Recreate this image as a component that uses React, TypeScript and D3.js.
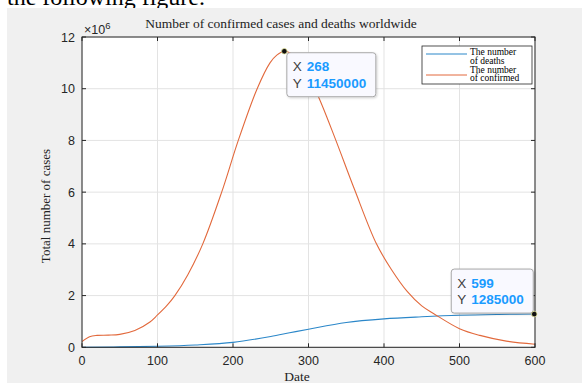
import React from "react";
import * as d3 from "d3";

// confirmed cases
const confirmedDays = [0, 10, 20, 35, 50, 70, 90, 100, 112, 123, 140, 160, 185, 207, 232, 249, 258, 268, 280, 290, 300, 313, 335, 361, 390, 410, 431, 450, 467, 500, 527, 562, 600];
const confirmed = [0.22, 0.41, 0.46, 0.47, 0.5, 0.65, 0.98, 1.25, 1.6, 2.0, 2.8, 4.0, 6.0, 8.0, 10.0, 11.0, 11.3, 11.45, 11.3, 10.95, 10.45, 9.7, 8.1, 6.1, 4.0, 3.0, 2.15, 1.6, 1.28, 0.72, 0.46, 0.24, 0.12].map((v) => v * 1e6);

// deaths
const deathDays = [0, 50, 100, 150, 200, 250, 275, 300, 350, 400, 450, 500, 550, 599, 600];
const deaths = [0.0, 0.015, 0.04, 0.09, 0.19, 0.42, 0.56, 0.7, 0.96, 1.1, 1.18, 1.24, 1.27, 1.285, 1.285].map((v) => v * 1e6);

const xTicks = [0, 100, 200, 300, 400, 500, 600];
const yTicks = [0, 2, 4, 6, 8, 10, 12];

const tips = [
  { x: 268, y: 11450000, side: "right" },
  { x: 599, y: 1285000, side: "left" },
];

const W = 582;
const H = 383;
const plot = { left: 82, right: 535, top: 37, bottom: 347.3 };

const sans = "'Liberation Sans', Arial, sans-serif";
const serif = "'Liberation Serif', 'Times New Roman', serif";

export default function App() {
  const x = d3.scaleLinear().domain([0, 600]).range([plot.left, plot.right]);
  const y = d3.scaleLinear().domain([0, 12e6]).range([plot.bottom, plot.top]);

  const confLine = d3
    .line<number>()
    .x((_, i) => x(confirmedDays[i]))
    .y((d) => y(d))
    .curve(d3.curveCatmullRom.alpha(0.5));
  const deathLine = d3
    .line<number>()
    .x((_, i) => x(deathDays[i]))
    .y((d) => y(d))
    .curve(d3.curveMonotoneX);

  return (
    <svg
      width={W}
      height={H}
      style={{ position: "absolute", left: 0, top: 0, background: "#fff" }}
    >
      <defs>
        <clipPath id="plotclip">
          <rect x={plot.left} y={plot.top - 1} width={plot.right - plot.left + 1} height={plot.bottom - plot.top + 2} />
        </clipPath>
        <filter id="shadow" x="-10%" y="-10%" width="130%" height="140%">
          <feDropShadow dx="1" dy="1" stdDeviation="1" floodColor="#000" floodOpacity="0.18" />
        </filter>
      </defs>

      {/* text above the figure, cut off */}
      <text x={7} y={5} fontFamily={serif} fontSize={24} fill="#000">
        the following figure.
      </text>

      {/* figure background */}
      <rect x={7} y={8} width={W - 7} height={H - 8} fill="#f0f0f0" />

      {/* axes background */}
      <rect x={plot.left} y={plot.top} width={plot.right - plot.left} height={plot.bottom - plot.top} fill="#fff" />

      {/* grid */}
      {xTicks.map((t) => (
        <line key={"gx" + t} x1={x(t)} x2={x(t)} y1={plot.top} y2={plot.bottom} stroke="#e3e3e3" strokeWidth={1} />
      ))}
      {yTicks.map((t) => (
        <line key={"gy" + t} x1={plot.left} x2={plot.right} y1={y(t * 1e6)} y2={y(t * 1e6)} stroke="#e3e3e3" strokeWidth={1} />
      ))}

      {/* curves */}
      <g clipPath="url(#plotclip)">
        <path d={deathLine(deaths) || ""} fill="none" stroke="#2b87c9" strokeWidth={1.1} />
        <path d={confLine(confirmed) || ""} fill="none" stroke="#e2693c" strokeWidth={1.1} />
      </g>

      {/* box + ticks */}
      <rect x={plot.left} y={plot.top} width={plot.right - plot.left} height={plot.bottom - plot.top} fill="none" stroke="#262626" strokeWidth={1} />
      {xTicks.map((t) => (
        <g key={"tx" + t}>
          <line x1={x(t)} x2={x(t)} y1={plot.bottom} y2={plot.bottom - 4} stroke="#262626" />
          <line x1={x(t)} x2={x(t)} y1={plot.top} y2={plot.top + 4} stroke="#262626" />
          <text x={x(t)} y={365} textAnchor="middle" fontFamily={sans} fontSize={12.5} fill="#262626">
            {t}
          </text>
        </g>
      ))}
      {yTicks.map((t) => (
        <g key={"ty" + t}>
          <line x1={plot.left} x2={plot.left + 4} y1={y(t * 1e6)} y2={y(t * 1e6)} stroke="#262626" />
          <line x1={plot.right} x2={plot.right - 4} y1={y(t * 1e6)} y2={y(t * 1e6)} stroke="#262626" />
          <text x={75} y={y(t * 1e6) + 4.5} textAnchor="end" fontFamily={sans} fontSize={12.5} fill="#262626">
            {t}
          </text>
        </g>
      ))}

      {/* exponent */}
      <text x={84} y={34} fontFamily={sans} fontSize={12.5} fill="#262626">
        ×10
        <tspan dy={-5} fontSize={9.5}>6</tspan>
      </text>

      {/* title and labels */}
      <text x={281} y={28} textAnchor="middle" fontFamily={serif} fontSize={13.5} fill="#222">
        Number of confirmed cases and deaths worldwide
      </text>
      <text x={297} y={381} textAnchor="middle" fontFamily={serif} fontSize={13.5} fill="#222">
        Date
      </text>
      <text
        transform={`translate(50, 206) rotate(-90)`}
        textAnchor="middle"
        fontFamily={serif}
        fontSize={13}
        fill="#222"
      >
        Total number of cases
      </text>

      {/* legend */}
      <g>
        <rect x={422} y={46} width={110} height={38} fill="#fff" stroke="#262626" strokeWidth={0.8} />
        <line x1={426} x2={467} y1={54} y2={54} stroke="#2b87c9" strokeWidth={1} />
        <line x1={426} x2={467} y1={75} y2={75} stroke="#e2693c" strokeWidth={1} />
        <g fontFamily={serif} fontSize={9.5} fill="#000">
          <text x={470} y={55}>The number</text>
          <text x={470} y={63.5}>of deaths</text>
          <text x={470} y={72.5}>The number</text>
          <text x={470} y={81}>of confirmed</text>
        </g>
      </g>

      {/* data tips */}
      {tips.map((tp) => {
        const mx = x(tp.x);
        const my = y(tp.y);
        const bw = tp.side === "right" ? 89 : 82;
        const bh = 44;
        const bx = tp.side === "right" ? mx + 2.5 : mx - bw - 1;
        const by = tp.side === "right" ? my + 1.5 : my - bh - 1;
        return (
          <g key={"tip" + tp.x}>
            <rect x={bx} y={by} width={bw} height={bh} rx={3} fill="#f9f9ff" stroke="#a8a8a8" strokeWidth={1} filter="url(#shadow)" />
            <g fontFamily={sans} fontSize={13.5}>
              <text x={bx + 6} y={by + 18.5} fill="#404040">X</text>
              <text x={bx + 20} y={by + 18.5} fill="#1a9bff" fontWeight="bold">{tp.x}</text>
              <text x={bx + 6} y={by + 35} fill="#404040">Y</text>
              <text x={bx + 20} y={by + 35} fill="#1a9bff" fontWeight="bold">{tp.y}</text>
            </g>
            <circle cx={mx} cy={my} r={2.8} fill="#111" stroke="#e8e8a0" strokeWidth={0.8} />
          </g>
        );
      })}
    </svg>
  );
}
